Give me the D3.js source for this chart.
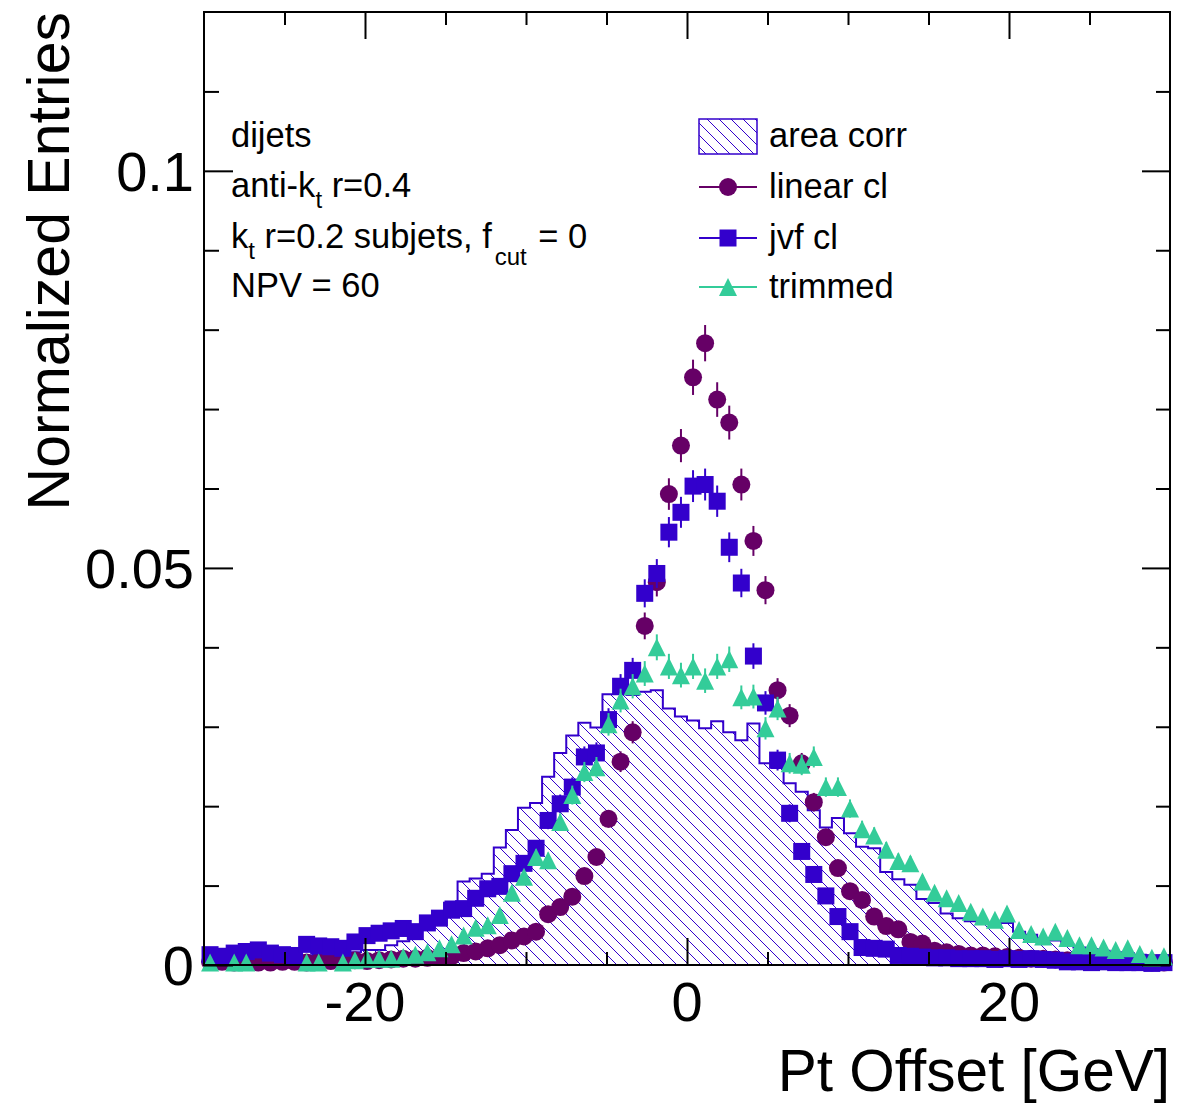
<!DOCTYPE html>
<html>
<head>
<meta charset="utf-8">
<script src="https://cdn.jsdelivr.net/npm/d3@7"></script>
<style>
  html, body { margin: 0; padding: 0; background: #fff; }
  svg { display: block; font-family: "Liberation Sans", Arial, Helvetica, sans-serif; }
</style>
</head>
<body>
<svg id="chart" width="1196" height="1105"></svg>
<script>
// Pt offset distributions, 80 bins of 0.75 GeV from -30 to 30 GeV, normalised to unit area
const binLow = -30;
const binHigh = 30;
const binCount = 80;

const areaCorr = [
  0.0006, 0.0007, 0.0008, 0.0008, 0.0009, 0.0010, 0.0010, 0.0011, 0.0012, 0.0013,
  0.0014, 0.0015, 0.0016, 0.0019, 0.0019, 0.0025, 0.0030, 0.0035, 0.0058, 0.0065,
  0.0080, 0.0105, 0.0109, 0.0115, 0.0148, 0.0170, 0.0198, 0.0204, 0.0237, 0.0267,
  0.0289, 0.0305, 0.0299, 0.0341, 0.0341, 0.0340, 0.0344, 0.0346, 0.0323, 0.0313,
  0.0308, 0.0298, 0.0307, 0.0293, 0.0283, 0.0304, 0.0254, 0.0248, 0.0229, 0.0218,
  0.0195, 0.0173, 0.0185, 0.0166, 0.0149, 0.0147, 0.0117, 0.0108, 0.0101, 0.0083,
  0.0078, 0.0065, 0.0059, 0.0055, 0.0052, 0.0050, 0.0053, 0.0042, 0.0038, 0.0034,
  0.0031, 0.0026, 0.0022, 0.0020, 0.0018, 0.0016, 0.0015, 0.0013, 0.0011, 0.0010
];

const linearCl = [
  0.0004, 0.0004, 0.0003, 0.0004, 0.0003, 0.0003, 0.0004, 0.0004, 0.0003, 0.0004,
  0.0005, 0.0005, 0.0006, 0.0005, 0.0006, 0.0007, 0.0008, 0.0008, 0.0009, 0.0010,
  0.0011, 0.0015, 0.0017, 0.0021, 0.0025, 0.0031, 0.0036, 0.0042, 0.0064, 0.0073,
  0.0086, 0.0112, 0.0136, 0.0184, 0.0256, 0.0293, 0.0427, 0.0482, 0.0593, 0.0654,
  0.0740, 0.0783, 0.0712, 0.0683, 0.0605, 0.0534, 0.0472, 0.0346, 0.0314, 0.0254,
  0.0205, 0.0161, 0.0122, 0.0093, 0.0082, 0.0061, 0.0049, 0.0045, 0.0029, 0.0027,
  0.0018, 0.0016, 0.0014, 0.0012, 0.0012, 0.0011, 0.0010, 0.0009, 0.0008, 0.0008,
  0.0007, 0.0006, 0.0006, 0.0005, 0.0006, 0.0005, 0.0004, 0.0004, 0.0003, 0.0003
];

const jvfCl = [
  0.0013, 0.0011, 0.0015, 0.0017, 0.0019, 0.0015, 0.0013, 0.0012, 0.0026, 0.0024,
  0.0023, 0.0021, 0.0029, 0.0037, 0.0040, 0.0043, 0.0046, 0.0042, 0.0053, 0.0059,
  0.0069, 0.0071, 0.0084, 0.0096, 0.0099, 0.0115, 0.0128, 0.0147, 0.0182, 0.0203,
  0.0224, 0.0262, 0.0267, 0.0309, 0.0351, 0.0371, 0.0468, 0.0493, 0.0545, 0.0570,
  0.0603, 0.0605, 0.0584, 0.0526, 0.0481, 0.0389, 0.0330, 0.0258, 0.0191, 0.0143,
  0.0114, 0.0087, 0.0061, 0.0042, 0.0022, 0.0021, 0.0020, 0.0012, 0.0011, 0.0010,
  0.0009, 0.0009, 0.0008, 0.0008, 0.0008, 0.0007, 0.0008, 0.0007, 0.0008, 0.0007,
  0.0006, 0.0004, 0.0004, 0.0003, 0.0004, 0.0003, 0.0003, 0.0003, 0.0002, 0.0003
];

const trimmed = [
  0.0003, 0, 0.0003, 0.0003, 0, 0, 0, 0, 0.0003, 0.0003,
  0, 0.0003, 0.0006, 0.0008, 0.0008, 0.0008, 0.0010, 0.0013, 0.0016, 0.0021,
  0.0026, 0.0037, 0.0047, 0.0050, 0.0063, 0.0091, 0.0111, 0.0136, 0.0132, 0.0180,
  0.0214, 0.0243, 0.0249, 0.0303, 0.0333, 0.0351, 0.0367, 0.0400, 0.0376, 0.0365,
  0.0376, 0.0358, 0.0376, 0.0385, 0.0337, 0.0338, 0.0298, 0.0323, 0.0254, 0.0252,
  0.0262, 0.0224, 0.0224, 0.0197, 0.0171, 0.0163, 0.0145, 0.0131, 0.0128, 0.0105,
  0.0091, 0.0084, 0.0078, 0.0067, 0.0061, 0.0057, 0.0065, 0.0044, 0.0039, 0.0036,
  0.0042, 0.0034, 0.0025, 0.0025, 0.0022, 0.0019, 0.0021, 0.0014, 0.0009, 0.0011
];

// entries behind each normalised histogram, used for the Poisson error bars
const entriesPerSample = 15000;

const xMajorTicks = [-20, 0, 20];
const xMinorTicks = [-25, -15, -10, -5, 5, 10, 15, 25];
const yMajorTicks = [0, 0.05, 0.1];
const yMinorTicks = [0.01, 0.02, 0.03, 0.04, 0.06, 0.07, 0.08, 0.09, 0.11];

const xTitle = "Pt Offset [GeV]";
const yTitle = "Normalized Entries";
const legendLabels = ["area corr", "linear cl", "jvf cl", "trimmed"];

// ---------------------------------------------------------------------------
const colLinear = "#660066";
const colJvf = "#3300cc";
const colTrim = "#33cc99";
const colArea = "#3300cc";

const svg = d3.select("#chart");
const x = d3.scaleLinear().domain([binLow, binHigh]).range([204, 1170]);
const y = d3.scaleLinear().domain([0, 0.12]).range([965, 12]);

const binWidth = (binHigh - binLow) / binCount;
const edges = d3.range(binCount + 1).map(i => binLow + i * binWidth);
const centers = d3.range(binCount).map(i => binLow + (i + 0.5) * binWidth);

// hatch pattern for the filled histogram
const defs = svg.append("defs");
const pat = defs.append("pattern")
  .attr("id", "hatch")
  .attr("patternUnits", "userSpaceOnUse")
  .attr("width", 12).attr("height", 12);
pat.append("path")
  .attr("d", "M0,0 L12,12 M-2,10 L2,14 M10,-2 L14,2")
  .attr("stroke", colArea).attr("stroke-width", 1).attr("fill", "none");

defs.append("clipPath").attr("id", "frameClip")
  .append("rect").attr("x", 204).attr("y", 12).attr("width", 966).attr("height", 953);

// ---- area corr histogram (hatched fill + step outline)
const histPts = [[edges[0], 0]];
areaCorr.forEach((v, i) => { histPts.push([edges[i], v]); histPts.push([edges[i + 1], v]); });
histPts.push([edges[binCount], 0]);
const stepLine = d3.line().x(d => x(d[0])).y(d => y(d[1]));

const histG = svg.append("g").attr("clip-path", "url(#frameClip)");
histG.append("path").attr("d", stepLine(histPts) + "Z")
  .attr("fill", "url(#hatch)").attr("stroke", "none");
histG.append("path").attr("d", stepLine(histPts))
  .attr("fill", "none").attr("stroke", colArea).attr("stroke-width", 2);

// ---- marker series with statistical error bars
const trianglePath = "M0,-9 L9,9 L-9,9 Z";

function drawSeries(values, color, shape) {
  const pts = values.map((v, i) => ({ c: centers[i], v: v, e: Math.sqrt(v / entriesPerSample) }))
    .filter(d => d.v > 0);
  const g = svg.append("g");
  g.selectAll("line.err").data(pts).join("line")
    .attr("class", "err")
    .attr("x1", d => x(d.c)).attr("x2", d => x(d.c))
    .attr("y1", d => y(d.v - d.e)).attr("y2", d => y(d.v + d.e))
    .attr("stroke", color).attr("stroke-width", 2);
  drawMarkers(g, pts.map(d => [x(d.c), y(d.v)]), color, shape);
}

function drawMarkers(g, xy, color, shape) {
  if (shape === "circle") {
    g.selectAll("circle.m").data(xy).join("circle").attr("class", "m")
      .attr("cx", d => d[0]).attr("cy", d => d[1]).attr("r", 9).attr("fill", color);
  } else if (shape === "square") {
    g.selectAll("rect.m").data(xy).join("rect").attr("class", "m")
      .attr("x", d => d[0] - 8.5).attr("y", d => d[1] - 8.5)
      .attr("width", 17).attr("height", 17).attr("fill", color);
  } else {
    g.selectAll("path.m").data(xy).join("path").attr("class", "m")
      .attr("transform", d => `translate(${d[0]},${d[1]})`)
      .attr("d", trianglePath).attr("fill", color);
  }
}

drawSeries(linearCl, colLinear, "circle");
drawSeries(jvfCl, colJvf, "square");
drawSeries(trimmed, colTrim, "triangle");

// ---- axes (ticks drawn inside the frame on all four sides)
function tickAxis(axisGen, transform, values, size) {
  const g = svg.append("g").attr("transform", transform)
    .call(axisGen.tickValues(values).tickSize(size).tickFormat(""));
  g.select(".domain").remove();
  g.selectAll(".tick line").attr("stroke", "#000").attr("stroke-width", 2);
  return g;
}
tickAxis(d3.axisBottom(x), "translate(0,965)", xMinorTicks, -13);
tickAxis(d3.axisBottom(x), "translate(0,965)", xMajorTicks, -27);
tickAxis(d3.axisTop(x), "translate(0,12)", xMinorTicks, -13);
tickAxis(d3.axisTop(x), "translate(0,12)", xMajorTicks, -27);
tickAxis(d3.axisLeft(y), "translate(204,0)", yMinorTicks, -15);
tickAxis(d3.axisLeft(y), "translate(204,0)", yMajorTicks, -29);
tickAxis(d3.axisRight(y), "translate(1170,0)", yMinorTicks, -14);
tickAxis(d3.axisRight(y), "translate(1170,0)", yMajorTicks, -28);

// tick labels
svg.append("g").selectAll("text").data(xMajorTicks).join("text")
  .attr("x", d => x(d)).attr("y", 1021)
  .attr("text-anchor", "middle").attr("font-size", 56).attr("fill", "#000")
  .text(d => String(d));
svg.append("g").selectAll("text").data(yMajorTicks).join("text")
  .attr("x", 194).attr("y", d => y(d)).attr("dy", "0.36em")
  .attr("text-anchor", "end").attr("font-size", 56).attr("fill", "#000")
  .text(d => String(d));

// frame
svg.append("rect").attr("x", 204).attr("y", 12).attr("width", 966).attr("height", 953)
  .attr("fill", "none").attr("stroke", "#000").attr("stroke-width", 2);

// axis titles
svg.append("text").attr("x", 1170).attr("y", 1091)
  .attr("text-anchor", "end").attr("font-size", 58.5).text(xTitle);
svg.append("text").attr("transform", "translate(69,12) rotate(-90)")
  .attr("text-anchor", "end").attr("font-size", 59).text(yTitle);

// ---- info block
const infoSize = 34.5, subSize = 24;
function richText(xPos, yPos, parts) {
  const t = svg.append("text").attr("x", xPos).attr("y", yPos).attr("font-size", infoSize);
  let shift = 0;
  parts.forEach(p => {
    const target = p.sub || 0;
    t.append("tspan")
      .attr("dx", p.dx || 0)
      .attr("dy", target - shift)
      .attr("font-size", p.sub ? subSize : infoSize)
      .text(p.t);
    shift = target;
  });
}
richText(231, 147, [{ t: "dijets" }]);
richText(231, 197, [{ t: "anti-k" }, { t: "t", sub: 11 }, { t: " r=0.4" }]);
richText(231, 248, [{ t: "k" }, { t: "t", sub: 11 }, { t: " r=0.2 subjets, f" }, { t: "cut", sub: 17, dx: 3 }, { t: " = 0", dx: 2 }]);
richText(231, 297, [{ t: "NPV = 60" }]);

// ---- legend
const legRows = [136, 187, 238, 287];
const lg = svg.append("g");
lg.append("rect").attr("x", 699).attr("y", 119).attr("width", 58).attr("height", 35)
  .attr("fill", "url(#hatch)").attr("stroke", colArea).attr("stroke-width", 1.5);
[[colLinear, "circle"], [colJvf, "square"], [colTrim, "triangle"]].forEach((s, i) => {
  const yy = legRows[i + 1];
  lg.append("line").attr("x1", 699).attr("x2", 757).attr("y1", yy).attr("y2", yy)
    .attr("stroke", s[0]).attr("stroke-width", 2);
  drawMarkers(lg.append("g"), [[728, yy]], s[0], s[1]);
});
lg.selectAll("text.lab").data(legendLabels).join("text").attr("class", "lab")
  .attr("x", 769).attr("y", (d, i) => legRows[i] + 11)
  .attr("font-size", infoSize).text(d => d);
</script>
</body>
</html>
